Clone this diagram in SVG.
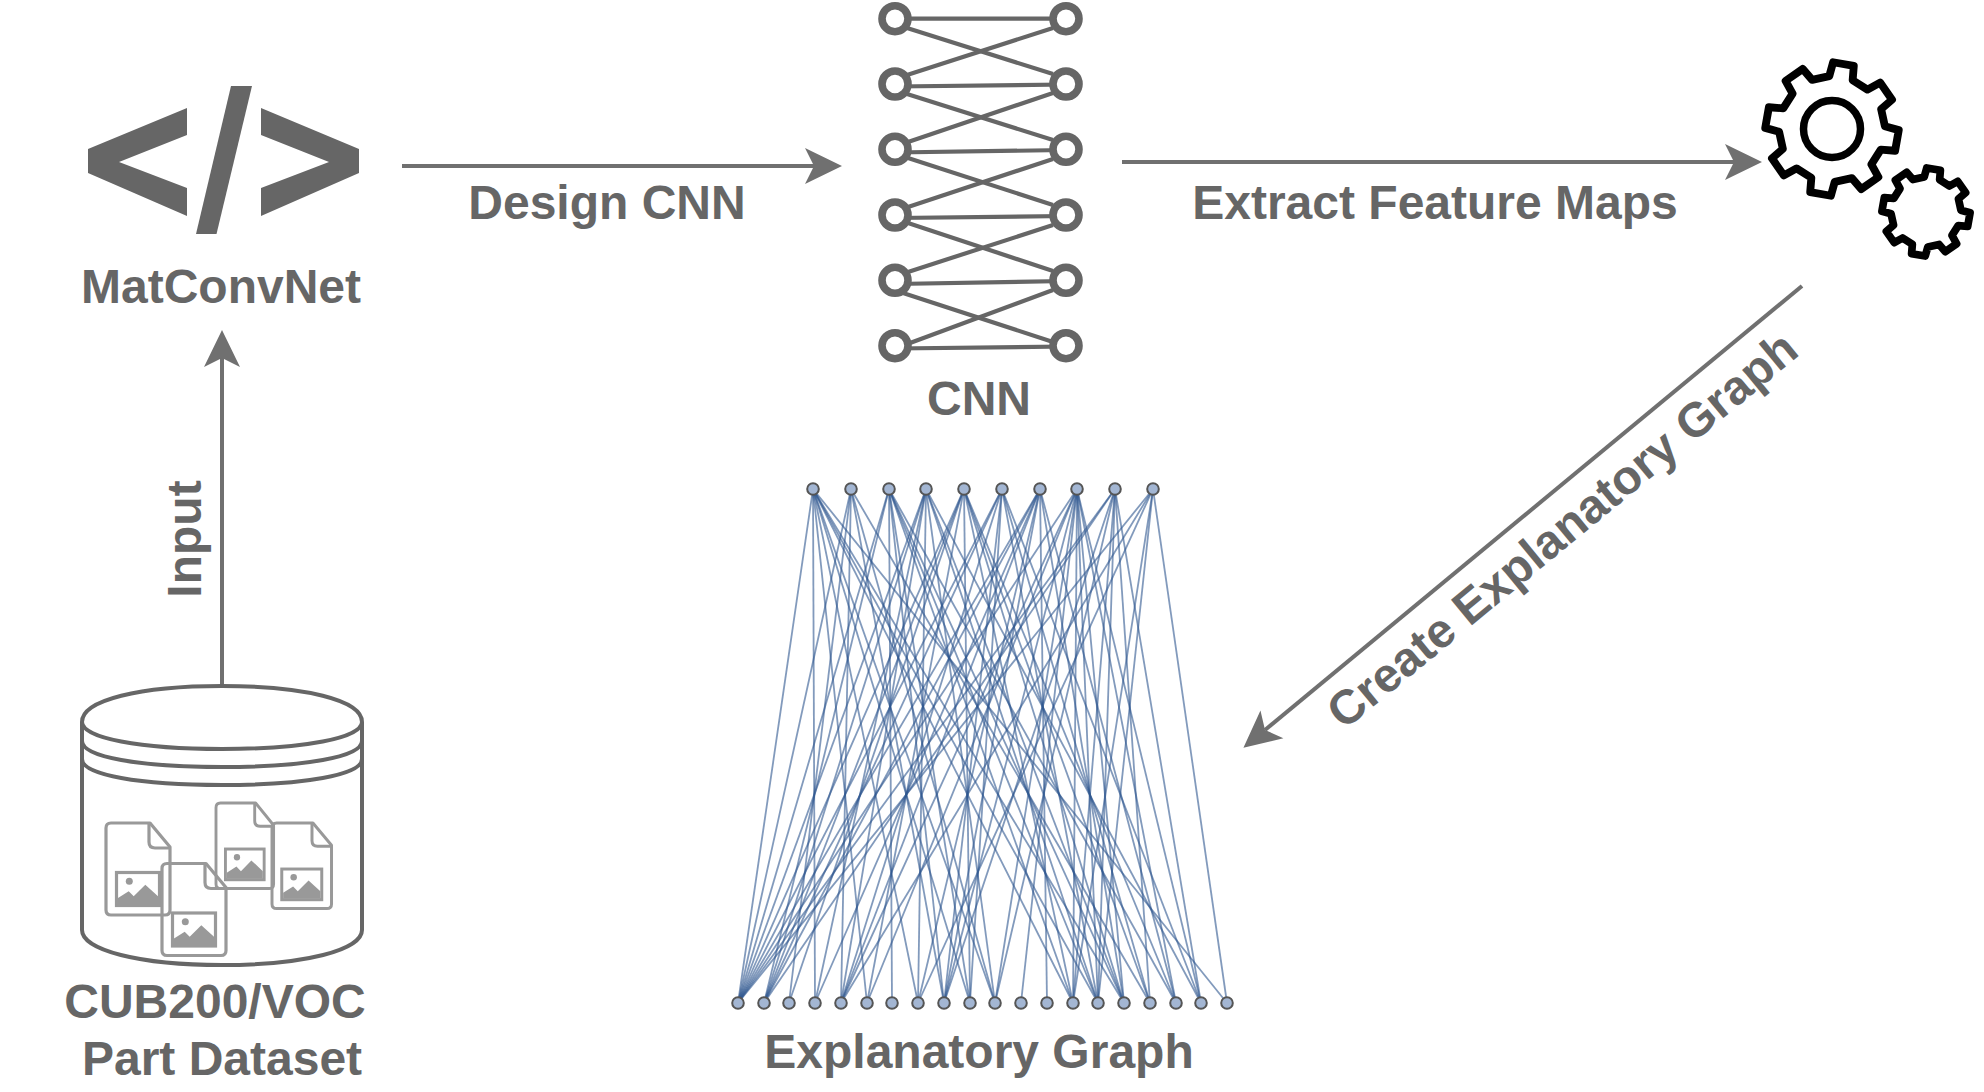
<svg xmlns="http://www.w3.org/2000/svg" xmlns:xlink="http://www.w3.org/1999/xlink" width="1984" height="1092" viewBox="0 0 1984 1092">
<style>
text{font-family:"Liberation Sans",Arial,sans-serif;font-weight:bold;font-size:48px;fill:#666;text-anchor:middle}
.arr{stroke:#707070;stroke-width:4;fill:none;marker-end:url(#head)}
.ln{stroke:#666;stroke-width:4.2;fill:none}
.ring{stroke:#666;stroke-width:7.6;fill:#fff}
.e{stroke:#2f5690;stroke-width:1.8;stroke-opacity:.6}
.gn{fill:#a3b6d3;stroke:#555;stroke-width:2}
.doc{fill:none;stroke:#999;stroke-width:3.2;stroke-linejoin:round}
.gear{fill:none;stroke:#000;stroke-linejoin:round}
.cyl{fill:none;stroke:#666;stroke-width:4}
</style>
<defs>
<marker id="head" markerUnits="userSpaceOnUse" markerWidth="40" markerHeight="40" viewBox="0 -20 40 40" refX="9" refY="0" orient="auto"><path d="M0,-18 L37,0 L0,18 L9,0Z" fill="#707070"/></marker>
<g id="docshape">
<path class="doc" d="M5 0H44L64 24V87Q64 92 59 92H5Q0 92 0 87V5Q0 0 5 0Z"/>
<path class="doc" d="M43 0V19Q43 25 49 25H64"/>
<rect x="10.5" y="49.5" width="43" height="33" fill="#fff" stroke="#999" stroke-width="3.2"/>
<circle cx="23.3" cy="58.3" r="3.5" fill="#999"/>
<path d="M12 81.5V75L22.7 68.3 27.7 73.3 39.3 61.7 52 73.3V81.5Z" fill="#999"/>
</g>
<path id="gearp" d="M-11.2-48.7L-9.9-62.2 9.9-62.2 11.2-48.7 26.5-42.4 37.1-51 51-37.1 42.4-26.5 48.7-11.2 62.2-9.9 62.2 9.9 48.7 11.2 42.4 26.5 51 37.1 37.1 51 26.5 42.4 11.2 48.7 9.9 62.2-9.9 62.2-11.2 48.7-26.5 42.4-37.1 51-51 37.1-42.4 26.5-48.7 11.2-62.2 9.9-62.2-9.9-48.7-11.2-42.4-26.5-51-37.1-37.1-51-26.5-42.4Z"/>
</defs>
<rect width="1984" height="1092" fill="#fff"/>

<g id="connectors">
<path class="arr" d="M222 685V358"/>
<path class="arr" d="M402 166H814"/>
<path class="arr" d="M1122 162H1734"/>
<path class="arr" d="M1802 286L1265 730"/>
</g>

<g id="label-input"><text transform="translate(201 539) rotate(-90)">Input</text></g>
<g id="label-design"><text x="607" y="219">Design CNN</text></g>
<g id="label-extract"><text x="1435" y="219">Extract Feature Maps</text></g>
<g id="label-create"><text transform="translate(1572.5 542.5) rotate(-39.5)">Create Explanatory Graph</text></g>

<g id="node-matconvnet">
<path fill="#666" d="M88 149L187 108V135L119 162 187 188V216L88 173Z"/>
<path fill="#666" d="M359 149L261 108V135L329 162 261 188V216L359 173Z"/>
<path fill="#666" d="M231 86H252L216.5 234H196Z"/>
<text x="221" y="303">MatConvNet</text>
</g>

<g id="node-dataset">
<path class="cyl" fill="#fff" d="M82 722C82 700 140 686 222 686S362 700 362 722V930C362 950 305 965 222 965S82 950 82 930Z"/>
<path class="cyl" d="M82 722C82 738 140 749 222 749S362 738 362 722"/>
<path class="cyl" d="M82 741C82 757 140 767 222 767S362 757 362 741"/>
<path class="cyl" d="M82 759C82 775 140 785 222 785S362 775 362 759"/>
<use xlink:href="#docshape" href="#docshape" transform="translate(106 823)"/>
<use xlink:href="#docshape" href="#docshape" transform="translate(162 863.5)"/>
<use xlink:href="#docshape" href="#docshape" transform="translate(216 803) scale(.9 .93)"/>
<use xlink:href="#docshape" href="#docshape" transform="translate(272 823) scale(.93 .93)"/>
<text x="215" y="1018">CUB200/VOC</text>
<text x="222" y="1075">Part Dataset</text>
</g>

<g id="node-cnn">
<path class="ln" d="M895 18.7H1066"/>
<path class="ln" d="M895 86.5L1066 84.5"/>
<path class="ln" d="M895 152.5L1066 150"/>
<path class="ln" d="M895 218L1066 216"/>
<path class="ln" d="M895 284L1066 281"/>
<path class="ln" d="M895 348.5L1066 346.5"/>
<path class="ln" d="M907 28L1053 74"/>
<path class="ln" d="M907 75L1053 28"/>
<path class="ln" d="M907 94L1053 140"/>
<path class="ln" d="M908 142L1053 93"/>
<path class="ln" d="M908 158L1053 205"/>
<path class="ln" d="M908 207L1053 159"/>
<path class="ln" d="M908 223L1053 271"/>
<path class="ln" d="M908 272L1053 225"/>
<path class="ln" d="M903 293L1053 342"/>
<path class="ln" d="M910 343L1053 290"/>
<circle class="ring" cx="895" cy="18.7" r="13"/><circle class="ring" cx="1066" cy="18.7" r="13"/>
<circle class="ring" cx="895" cy="84" r="13"/><circle class="ring" cx="1066" cy="84" r="13"/>
<circle class="ring" cx="895" cy="149.3" r="13"/><circle class="ring" cx="1066" cy="149.3" r="13"/>
<circle class="ring" cx="895" cy="215" r="13"/><circle class="ring" cx="1066" cy="215" r="13"/>
<circle class="ring" cx="895" cy="280.3" r="13"/><circle class="ring" cx="1066" cy="280.3" r="13"/>
<circle class="ring" cx="895" cy="345.7" r="13"/><circle class="ring" cx="1066" cy="345.7" r="13"/>
<text x="979" y="415">CNN</text>
</g>

<g id="node-gears">
<use xlink:href="#gearp" href="#gearp" class="gear" stroke-width="7.4" transform="translate(1832 129) rotate(10) scale(1.06)"/>
<circle cx="1832" cy="129" r="28.5" fill="none" stroke="#000" stroke-width="7.5"/>
<use xlink:href="#gearp" href="#gearp" class="gear" stroke-width="11" transform="translate(1926 212) rotate(10) scale(.7)"/>
</g>

<g id="node-explanatory-graph">
<g id="graph-edges">
<line class="e" x1="813" y1="489" x2="738" y2="1003"/><line class="e" x1="813" y1="489" x2="815" y2="1003"/><line class="e" x1="813" y1="489" x2="867" y2="1003"/><line class="e" x1="813" y1="489" x2="918" y2="1003"/><line class="e" x1="813" y1="489" x2="970" y2="1003"/><line class="e" x1="813" y1="489" x2="995" y2="1003"/><line class="e" x1="813" y1="489" x2="1073" y2="1003"/><line class="e" x1="813" y1="489" x2="1098" y2="1003"/><line class="e" x1="813" y1="489" x2="1124" y2="1003"/><line class="e" x1="813" y1="489" x2="1227" y2="1003"/>
<line class="e" x1="851" y1="489" x2="738" y2="1003"/><line class="e" x1="851" y1="489" x2="789" y2="1003"/><line class="e" x1="851" y1="489" x2="841" y2="1003"/><line class="e" x1="851" y1="489" x2="944" y2="1003"/><line class="e" x1="851" y1="489" x2="995" y2="1003"/><line class="e" x1="851" y1="489" x2="1150" y2="1003"/>
<line class="e" x1="889" y1="489" x2="738" y2="1003"/><line class="e" x1="889" y1="489" x2="764" y2="1003"/><line class="e" x1="889" y1="489" x2="892" y2="1003"/><line class="e" x1="889" y1="489" x2="944" y2="1003"/><line class="e" x1="889" y1="489" x2="970" y2="1003"/><line class="e" x1="889" y1="489" x2="1073" y2="1003"/><line class="e" x1="889" y1="489" x2="1098" y2="1003"/><line class="e" x1="889" y1="489" x2="1124" y2="1003"/><line class="e" x1="889" y1="489" x2="1176" y2="1003"/>
<line class="e" x1="926" y1="489" x2="738" y2="1003"/><line class="e" x1="926" y1="489" x2="764" y2="1003"/><line class="e" x1="926" y1="489" x2="815" y2="1003"/><line class="e" x1="926" y1="489" x2="841" y2="1003"/><line class="e" x1="926" y1="489" x2="918" y2="1003"/><line class="e" x1="926" y1="489" x2="995" y2="1003"/><line class="e" x1="926" y1="489" x2="1098" y2="1003"/><line class="e" x1="926" y1="489" x2="1124" y2="1003"/><line class="e" x1="926" y1="489" x2="1201" y2="1003"/>
<line class="e" x1="964" y1="489" x2="738" y2="1003"/><line class="e" x1="964" y1="489" x2="764" y2="1003"/><line class="e" x1="964" y1="489" x2="789" y2="1003"/><line class="e" x1="964" y1="489" x2="867" y2="1003"/><line class="e" x1="964" y1="489" x2="970" y2="1003"/><line class="e" x1="964" y1="489" x2="1073" y2="1003"/><line class="e" x1="964" y1="489" x2="1124" y2="1003"/><line class="e" x1="964" y1="489" x2="1150" y2="1003"/><line class="e" x1="964" y1="489" x2="1176" y2="1003"/>
<line class="e" x1="1002" y1="489" x2="738" y2="1003"/><line class="e" x1="1002" y1="489" x2="764" y2="1003"/><line class="e" x1="1002" y1="489" x2="841" y2="1003"/><line class="e" x1="1002" y1="489" x2="944" y2="1003"/><line class="e" x1="1002" y1="489" x2="970" y2="1003"/><line class="e" x1="1002" y1="489" x2="1098" y2="1003"/><line class="e" x1="1002" y1="489" x2="1150" y2="1003"/><line class="e" x1="1002" y1="489" x2="1201" y2="1003"/>
<line class="e" x1="1040" y1="489" x2="738" y2="1003"/><line class="e" x1="1040" y1="489" x2="764" y2="1003"/><line class="e" x1="1040" y1="489" x2="815" y2="1003"/><line class="e" x1="1040" y1="489" x2="841" y2="1003"/><line class="e" x1="1040" y1="489" x2="918" y2="1003"/><line class="e" x1="1040" y1="489" x2="944" y2="1003"/><line class="e" x1="1040" y1="489" x2="1047" y2="1003"/><line class="e" x1="1040" y1="489" x2="1124" y2="1003"/><line class="e" x1="1040" y1="489" x2="1176" y2="1003"/>
<line class="e" x1="1077" y1="489" x2="738" y2="1003"/><line class="e" x1="1077" y1="489" x2="841" y2="1003"/><line class="e" x1="1077" y1="489" x2="867" y2="1003"/><line class="e" x1="1077" y1="489" x2="944" y2="1003"/><line class="e" x1="1077" y1="489" x2="995" y2="1003"/><line class="e" x1="1077" y1="489" x2="1021" y2="1003"/><line class="e" x1="1077" y1="489" x2="1073" y2="1003"/><line class="e" x1="1077" y1="489" x2="1098" y2="1003"/><line class="e" x1="1077" y1="489" x2="1124" y2="1003"/><line class="e" x1="1077" y1="489" x2="1176" y2="1003"/><line class="e" x1="1077" y1="489" x2="1201" y2="1003"/>
<line class="e" x1="1115" y1="489" x2="738" y2="1003"/><line class="e" x1="1115" y1="489" x2="764" y2="1003"/><line class="e" x1="1115" y1="489" x2="944" y2="1003"/><line class="e" x1="1115" y1="489" x2="995" y2="1003"/><line class="e" x1="1115" y1="489" x2="1073" y2="1003"/><line class="e" x1="1115" y1="489" x2="1098" y2="1003"/><line class="e" x1="1115" y1="489" x2="1150" y2="1003"/><line class="e" x1="1115" y1="489" x2="1201" y2="1003"/>
<line class="e" x1="1153" y1="489" x2="738" y2="1003"/><line class="e" x1="1153" y1="489" x2="841" y2="1003"/><line class="e" x1="1153" y1="489" x2="918" y2="1003"/><line class="e" x1="1153" y1="489" x2="1073" y2="1003"/><line class="e" x1="1153" y1="489" x2="1098" y2="1003"/><line class="e" x1="1153" y1="489" x2="1227" y2="1003"/>
</g>
<g id="graph-top-nodes">
<circle class="gn" cx="813" cy="489" r="5.8"/><circle class="gn" cx="851" cy="489" r="5.8"/><circle class="gn" cx="889" cy="489" r="5.8"/><circle class="gn" cx="926" cy="489" r="5.8"/><circle class="gn" cx="964" cy="489" r="5.8"/><circle class="gn" cx="1002" cy="489" r="5.8"/><circle class="gn" cx="1040" cy="489" r="5.8"/><circle class="gn" cx="1077" cy="489" r="5.8"/><circle class="gn" cx="1115" cy="489" r="5.8"/><circle class="gn" cx="1153" cy="489" r="5.8"/>
</g>
<g id="graph-bottom-nodes">
<circle class="gn" cx="738" cy="1003" r="5.8"/><circle class="gn" cx="764" cy="1003" r="5.8"/><circle class="gn" cx="789" cy="1003" r="5.8"/><circle class="gn" cx="815" cy="1003" r="5.8"/><circle class="gn" cx="841" cy="1003" r="5.8"/><circle class="gn" cx="867" cy="1003" r="5.8"/><circle class="gn" cx="892" cy="1003" r="5.8"/><circle class="gn" cx="918" cy="1003" r="5.8"/><circle class="gn" cx="944" cy="1003" r="5.8"/><circle class="gn" cx="970" cy="1003" r="5.8"/><circle class="gn" cx="995" cy="1003" r="5.8"/><circle class="gn" cx="1021" cy="1003" r="5.8"/><circle class="gn" cx="1047" cy="1003" r="5.8"/><circle class="gn" cx="1073" cy="1003" r="5.8"/><circle class="gn" cx="1098" cy="1003" r="5.8"/><circle class="gn" cx="1124" cy="1003" r="5.8"/><circle class="gn" cx="1150" cy="1003" r="5.8"/><circle class="gn" cx="1176" cy="1003" r="5.8"/><circle class="gn" cx="1201" cy="1003" r="5.8"/><circle class="gn" cx="1227" cy="1003" r="5.8"/>
</g>
<text x="979" y="1068">Explanatory Graph</text>
</g>
</svg>
